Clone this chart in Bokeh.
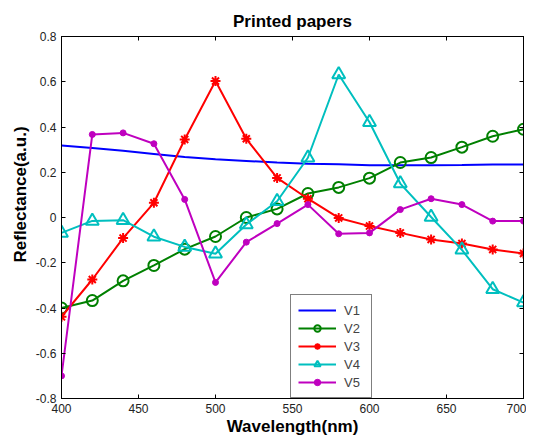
from bokeh.plotting import figure
from bokeh.models import LinearAxis, FixedTicker, Legend, LegendItem, Range1d, Title
from bokeh.embed import file_html
from bokeh.resources import INLINE

wavelength = [400, 420, 440, 460, 480, 500, 520, 540, 560, 580, 600, 620, 640, 660, 680, 700]
v1 = [0.318, 0.307, 0.295, 0.281, 0.267, 0.257, 0.250, 0.243, 0.238, 0.235, 0.231, 0.231, 0.231, 0.232, 0.234, 0.234]
v2 = [-0.400, -0.367, -0.280, -0.212, -0.140, -0.084, 0.000, 0.038, 0.106, 0.133, 0.174, 0.243, 0.265, 0.311, 0.359, 0.390]
v3 = [-0.439, -0.274, -0.091, 0.065, 0.345, 0.603, 0.348, 0.175, 0.083, -0.002, -0.038, -0.068, -0.097, -0.115, -0.141, -0.159]
v4 = [-0.068, -0.015, -0.012, -0.085, -0.130, -0.160, -0.031, 0.072, 0.264, 0.632, 0.421, 0.150, 0.002, -0.143, -0.317, -0.376]
v5 = [-0.700, 0.367, 0.374, 0.326, 0.080, -0.287, -0.109, -0.027, 0.057, -0.072, -0.068, 0.035, 0.083, 0.057, -0.016, -0.016]

x_ticks = [400, 450, 500, 550, 600, 650, 700]
y_ticks = [-0.8, -0.6, -0.4, -0.2, 0.0, 0.2, 0.4, 0.6, 0.8]
y_tick_labels = ["-0.8", "-0.6", "-0.4", "-0.2", "0", "0.2", "0.4", "0.6", "0.8"]

FONT = "Liberation Sans"

p = figure(
    frame_width=462, frame_height=362,
    x_range=Range1d(400, 700), y_range=Range1d(-0.8, 0.8),
    output_backend="svg", toolbar_location=None,
    title="Printed papers",
    min_border_left=61, min_border_right=3, min_border_top=36, min_border_bottom=5,
)
p.title.align = "center"
p.title.text_font = FONT
p.title.text_font_size = "17px"
p.title.text_font_style = "bold"
p.title.text_color = "black"
p.title.standoff = 12

p.grid.visible = False
p.outline_line_color = "black"
p.outline_line_width = 1

def style_axis(ax, show_labels=True):
    ax.major_tick_in = 4
    ax.major_tick_out = 0
    ax.minor_tick_in = 0
    ax.minor_tick_out = 0
    ax.axis_line_color = "black"
    ax.major_tick_line_color = "black"
    ax.major_label_text_font = FONT
    if show_labels:
        ax.major_label_text_font_size = "12px"
        ax.major_label_text_color = "#222222"
    else:
        ax.major_label_text_font_size = "0px"
        ax.major_label_text_color = None
        ax.major_label_standoff = 0

xa = p.xaxis[0]
ya = p.yaxis[0]
xa.ticker = FixedTicker(ticks=x_ticks)
ya.ticker = FixedTicker(ticks=y_ticks)
ya.major_label_overrides = {t: s for t, s in zip(y_ticks, y_tick_labels)}
style_axis(xa)
style_axis(ya)
xa.axis_label = "Wavelength(nm)"
xa.axis_label_text_font = FONT
xa.axis_label_text_font_size = "17px"
xa.axis_label_text_font_style = "bold"
xa.axis_label_text_color = "black"
xa.axis_label_standoff = 1

top = LinearAxis(ticker=FixedTicker(ticks=x_ticks))
right = LinearAxis(ticker=FixedTicker(ticks=y_ticks))
style_axis(top, False)
style_axis(right, False)
p.add_layout(top, "above")
p.add_layout(right, "right")

# y label: vertical title in the left panel, starting a little above the frame bottom
ylabel = Title(text="Reflectance(a.u.)", align="left", offset=136,
               text_font=FONT, text_font_size="17px", text_font_style="bold",
               text_color="black", standoff=6)
p.add_layout(ylabel, "left")

c1, c2, c3, c4, c5 = "#0000ff", "#008000", "#ff0000", "#00bfbf", "#bf00bf"

r1 = p.line(wavelength, v1, line_color=c1, line_width=2)
r2 = p.line(wavelength, v2, line_color=c2, line_width=2)
m2 = p.scatter(wavelength, v2, marker="circle", size=11, fill_color=None, line_color=c2, line_width=2)
r3 = p.line(wavelength, v3, line_color=c3, line_width=2)
m3 = p.scatter(wavelength, v3, marker="asterisk", size=10, line_color=c3, line_width=2)
r4 = p.line(wavelength, v4, line_color=c4, line_width=2)
m4 = p.scatter(wavelength, v4, marker="triangle", size=13, fill_color=None, line_color=c4, line_width=2)
r5 = p.line(wavelength, v5, line_color=c5, line_width=2)
m5 = p.scatter(wavelength, v5, marker="circle", size=6, fill_color=c5, line_color=c5)

legend = Legend(items=[
    LegendItem(label="V1", renderers=[r1]),
    LegendItem(label="V2", renderers=[r2, m2]),
    LegendItem(label="V3", renderers=[r3, m3]),
    LegendItem(label="V4", renderers=[r4, m4]),
    LegendItem(label="V5", renderers=[r5, m5]),
], location=(229, 0))
legend.border_line_color = "black"
legend.border_line_width = 1
legend.background_fill_alpha = 1
legend.label_text_font = FONT
legend.label_text_font_size = "13px"
legend.glyph_width = 38
legend.glyph_height = 16
legend.spacing = 2
legend.padding = 7
legend.margin = 0
legend.label_standoff = 8
p.add_layout(legend, "center")

open("out.html", "w").write(file_html(p, INLINE))
